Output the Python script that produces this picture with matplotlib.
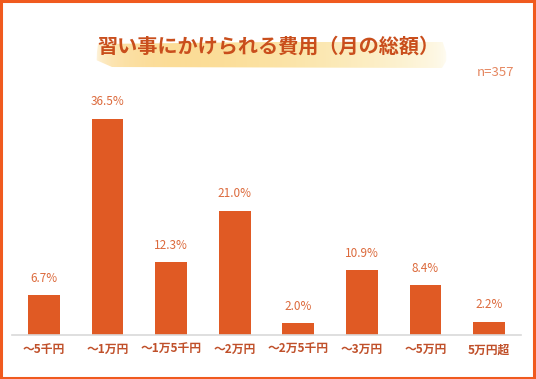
import matplotlib.pyplot as plt
import numpy as np
from matplotlib.patches import Polygon, Rectangle

plt.rcParams['font.family'] = ['Noto Sans CJK JP', 'DejaVu Sans']

categories = ['～5千円', '～1万円', '～1万5千円', '～2万円', '～2万5千円', '～3万円', '～5万円', '5万円超']
values = [6.7, 36.5, 12.3, 21.0, 2.0, 10.9, 8.4, 2.2]
title = '習い事にかけられる費用（月の総額）'
note = 'n=357'

W, H = 536, 379
fig = plt.figure(figsize=(W / 100, H / 100), dpi=100)

# orange frame
fig.patches.append(Rectangle((0.002, 0.003), 0.995, 0.994, transform=fig.transFigure,
                             fill=False, edgecolor='#F05A1E', linewidth=2.2))

# brush banner behind title
banner = fig.add_axes([0, 0, 1, 1], zorder=0)
banner.set_xlim(0, W)
banner.set_ylim(H, 0)
banner.axis('off')
grad = np.linspace(0, 1, 200)
col = np.zeros((1, 200, 4))
col[..., 0] = 0.98
col[..., 1] = 0.76 + 0.12 * grad
col[..., 2] = 0.30 + 0.25 * grad
col[..., 3] = (0.8 - 0.35 * grad) * np.sin(np.pi * grad) ** 0.3
banner.imshow(col, extent=[95, 448, 68, 42], aspect='auto', zorder=1)
poly = Polygon([[98, 44], [442, 40], [448, 58], [442, 68], [112, 67], [96, 60]],
               closed=True, facecolor='none', edgecolor='none')
banner.add_patch(poly)
banner.images[0].set_clip_path(poly)
banner.text(W / 2, 46, title, ha='center', va='center', fontsize=14.5,
            fontweight='bold', color='#C94E1C', zorder=3)
banner.text(514, 73, note, ha='right', va='center', fontsize=9.5, color='#E58760')

ax = fig.add_axes([12 / W, 1 - 335 / H, 509 / W, 260 / H], zorder=1)
ax.patch.set_visible(False)
x = np.arange(len(categories))
ax.bar(x, values, width=0.5, color='#E05A24')
for xi, v in zip(x, values):
    ax.text(xi, v + 1.8, f'{v:.1f}%', ha='center', va='bottom', fontsize=8.5, color='#DC6A3C')
ax.set_xlim(-0.5, 7.5)
ax.set_ylim(0, 260 / 5.92)
ax.set_xticks(x)
ax.set_xticklabels(categories, fontsize=8.5, fontweight='bold', color='#C0502A')
ax.tick_params(axis='x', length=0, pad=6)
ax.set_yticks([])
for s in ['top', 'right', 'left']:
    ax.spines[s].set_visible(False)
ax.spines['bottom'].set_color('#D9D9D9')
ax.spines['bottom'].set_linewidth(1.2)

fig.savefig('out.png', dpi=100)
